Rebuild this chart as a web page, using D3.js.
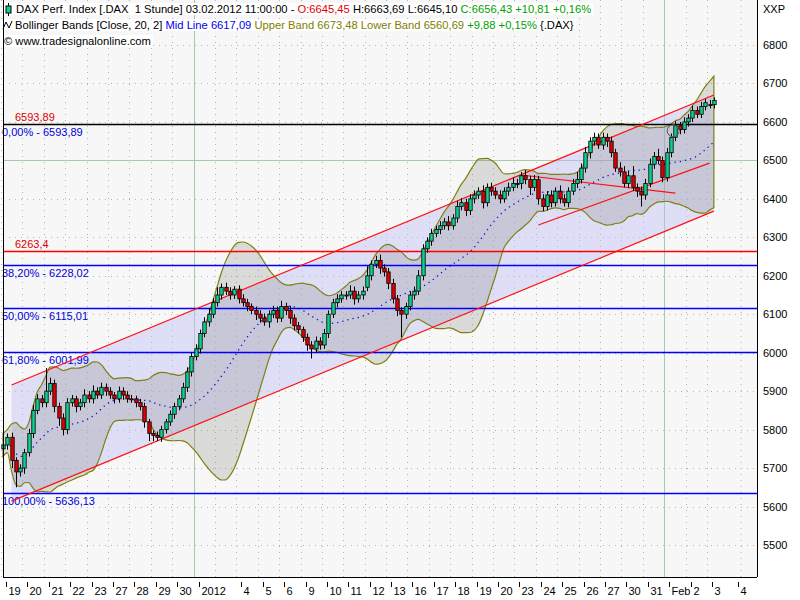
<!DOCTYPE html>
<html><head><meta charset="utf-8">
<script src="https://cdn.jsdelivr.net/npm/d3@7"></script>
<style>body{margin:0;background:#fff}svg{display:block;font-family:"Liberation Sans",Arial,sans-serif}</style>
</head><body><svg id="c" width="800" height="600"></svg>
<script>
// ---- data ----
const dayLabels = ["19","20","21","22","23","27","28","29","30","2012","","4","5","6","9","10","11","12","13","16","17","18","19","20","23","24","25","26","27","30","31","Feb","2","3","4"];
// hourly closes (5 per day), last day partial
const closes = [
 5760,5780,5720,5690,5700, 5740,5790,5850,5880,5870, 5900,5920,5860,5830,5800, 5870,5880,5860,5870,5890,
 5880,5900,5890,5910,5900, 5890,5880,5900,5890,5880, 5880,5870,5860,5820,5790, 5785,5780,5800,5820,5840,
 5860,5880,5910,5950,5990, 6010,6050,6080,6100,6130, 6150,6170,6160,6150,6165, 6140,6130,6120,6110,6100,
 6090,6080,6100,6110,6090, 6120,6110,6090,6070,6060, 6040,6020,6010,6030,6020, 6050,6100,6130,6140,6150,
 6150,6160,6140,6150,6160, 6200,6230,6240,6220,6210, 6180,6140,6110,6100,6120, 6150,6160,6200,6270,6290,
 6310,6320,6330,6340,6330, 6350,6380,6390,6370,6400, 6410,6420,6390,6430,6420, 6410,6400,6420,6430,6440,
 6440,6460,6450,6430,6450, 6400,6380,6410,6390,6420, 6400,6390,6420,6440,6450, 6480,6520,6550,6560,6540,
 6560,6550,6520,6480,6470, 6440,6460,6430,6420,6410, 6440,6490,6510,6500,6455, 6520,6560,6590,6580,6600,
 6610,6630,6620,6640,6650, 6645,6656];
const opens = [
 5750,5760,5780,5720,5690, 5700,5740,5790,5850,5880, 5870,5900,5920,5860,5830, 5800,5870,5880,5860,5870,
 5890,5880,5900,5890,5910, 5900,5890,5880,5900,5890, 5880,5880,5870,5860,5820, 5790,5785,5780,5800,5820,
 5840,5860,5880,5910,5950, 5990,6010,6050,6080,6100, 6130,6150,6170,6160,6150, 6165,6140,6130,6120,6110,
 6100,6090,6080,6100,6110, 6090,6120,6110,6090,6070, 6060,6040,6020,6010,6030, 6020,6050,6100,6130,6140,
 6150,6150,6160,6140,6150, 6170,6200,6230,6240,6220, 6210,6180,6140,6110,6100, 6120,6150,6160,6200,6270,
 6290,6310,6320,6330,6340, 6330,6350,6380,6390,6370, 6400,6410,6420,6390,6430, 6420,6410,6400,6420,6430,
 6440,6440,6460,6450,6430, 6450,6400,6380,6410,6390, 6420,6400,6390,6420,6440, 6450,6480,6520,6550,6560,
 6540,6560,6550,6520,6480, 6470,6440,6460,6430,6420, 6410,6440,6490,6510,6500, 6455,6520,6560,6590,6580,
 6600,6610,6630,6620,6640, 6645,6645];
const wickUp = [
 15,10,12,8,10, 10,12,15,12,10, 60,15,10,10,12, 12,10,8,10,15, 10,15,10,12,10, 10,8,12,10,10, 10,8,10,10,8,
 8,10,10,8,10, 10,10,12,12,10, 12,10,12,15,12, 20,10,12,10,8, 10,12,10,8,10, 10,12,10,12,10, 15,10,12,10,10,
 8,10,10,12,10, 12,10,10,12,10, 10,15,12,10,12, 25,10,12,15,10, 10,12,10,8,10, 10,12,15,12,10, 12,10,12,10,15,
 10,15,12,10,12, 12,10,15,10,12, 10,12,10,12,15, 12,10,15,10,12, 10,12,10,12,10, 15,12,10,12,20, 12,15,10,12,10,
 12,10,12,10,15, 15,12,25,10,12, 12,15,12,20,10, 12,10,12,10,12, 10,12,10,12,10, 12,8];
const wickDn = [
 15,12,20,40,12, 15,10,12,10,12, 12,10,15,20,15, 12,10,15,10,12, 10,12,10,10,12, 10,12,10,12,10, 10,12,10,15,20,
 15,10,12,10,10, 12,10,10,12,12, 10,12,10,12,10, 10,12,10,12,10, 12,10,12,10,15, 12,10,15,10,12, 10,12,15,12,10,
 12,15,25,10,12, 10,12,10,12,10, 12,10,15,10,12, 10,12,10,15,12, 15,12,15,60,12, 10,12,10,12,10, 12,10,12,10,12,
 10,12,10,15,12, 12,10,15,10,12, 10,12,10,12,10, 12,15,12,20,10, 15,12,10,12,10, 12,10,12,10,12, 10,12,15,12,10,
 12,15,12,10,12, 10,12,10,15,30, 12,10,12,10,12, 10,12,10,12,10, 12,10];
const yTicks = [5500,5600,5700,5800,5900,6000,6100,6200,6300,6400,6500,6600,6700,6800];
const fibLevels = [6593.89,6228.02,6115.01,6001.99,5636.13];
const fibLabels = ["0,00% - 6593,89","38,20% - 6228,02","50,00% - 6115,01","61,80% - 6001,99","100,00% - 5636,13"];
const redLevels = [6593.89,6263.4];
const redLabels = ["6593,89","6263,4"];
// trend channel [barIndex, value]
const chanUpper = [[2,5916],[166,6670]];
const chanLower = [[2,5614],[166,6368]];
const smallUp = [[125,6332],[165,6493]];
const smallDn = [[121,6462],[157,6415]];
const marker = [156.5,6577];

// ---- layout ----
const svg = d3.select("#c");
const L=3,R=757,T=0,B=577;
const x = d3.scaleLinear().domain([0,165]).range([3,709.6]); // bar index -> center
const xd = d3.scaleLinear().domain([0,33]).range([1,707]);  // day boundary
const y = d3.scaleLinear().domain([5500,6800]).range([545,45]);

svg.append("rect").attr("x",L).attr("y",T).attr("width",R-L).attr("height",B-T).attr("fill","#f7f7f7");

// grid
const g = svg.append("g");
dayLabels.forEach((d,i)=>{
  const xx = i===34?741:Math.round(xd(i))+0.5;
  if(d==="2012"||d==="Feb") g.append("line").attr("x1",xx).attr("x2",xx).attr("y1",T).attr("y2",B).attr("stroke","#a9c9a9");
  else g.append("line").attr("x1",xx).attr("x2",xx).attr("y1",T).attr("y2",B).attr("stroke","#b4b4b4").attr("stroke-dasharray","1,5");
});
yTicks.forEach(v=>{
  const yy=Math.round(y(v))+0.5;
  if(v===6500) g.append("line").attr("x1",L).attr("x2",R).attr("y1",yy).attr("y2",yy).attr("stroke","#a9c9a9");
  else g.append("line").attr("x1",L).attr("x2",R).attr("y1",yy).attr("y2",yy).attr("stroke","#b4b4b4").attr("stroke-dasharray","1,5");
});

// channel fill
const cx0 = x(chanUpper[0][0]), cx1 = x(chanUpper[1][0]);
svg.append("path").attr("fill","rgba(190,190,245,0.45)")
  .attr("d",`M${cx0},${y(chanUpper[0][1])}L${cx1},${y(chanUpper[1][1])}L${cx1},${y(chanLower[1][1])}L${cx0},${y(chanLower[0][1])}Z`);

// bollinger
const N=closes.length, up=[],lo=[],mid=[];
for(let i=0;i<N;i++){
  const w=closes.slice(Math.max(0,i-19),i+1);
  const m=d3.mean(w), s=Math.max(d3.deviation(w)||0, 15);
  mid.push(m); up.push(m+2*s); lo.push(m-2*s);
}
const idx=d3.range(N);
svg.append("path").attr("fill","rgba(120,120,110,0.22)").attr("stroke","#7f7f10").attr("stroke-width",1.2)
  .attr("d",d3.area().x(i=>x(i)).y0(i=>y(lo[i])).y1(i=>y(up[i])).curve(d3.curveMonotoneX)(idx));
svg.append("path").attr("fill","none").attr("stroke","#1010e0").attr("stroke-width",1.3).attr("stroke-dasharray","1.3,4")
  .attr("d",d3.line().x(i=>x(i)).y(i=>y(mid[i]))(idx));

// horizontal levels
fibLevels.forEach((v,i)=>{
  const yy=Math.round(y(v))+0.5;
  svg.append("line").attr("x1",L).attr("x2",R).attr("y1",yy).attr("y2",yy)
   .attr("stroke",i===0?"#000000":"#0000ff").attr("stroke-width",1.3);
  svg.append("text").attr("x",2).attr("y",y(v)+12).attr("fill","#0000dd").attr("font-size",11).text(fibLabels[i]);
});
redLevels.forEach((v,i)=>{
  const yy=Math.round(y(v))+0.5;
  if(i>0) svg.append("line").attr("x1",L).attr("x2",R).attr("y1",yy).attr("y2",yy).attr("stroke","#ff0000").attr("stroke-width",1.3);
  svg.append("text").attr("x",15).attr("y",y(v)-3).attr("fill","#dd0000").attr("font-size",11).text(redLabels[i]);
});

// channel lines
[chanUpper,chanLower,smallUp,smallDn].forEach(p=>{
  svg.append("line").attr("x1",x(p[0][0])).attr("y1",y(p[0][1])).attr("x2",x(p[1][0])).attr("y2",y(p[1][1])).attr("stroke","#ff1010").attr("stroke-width",1.2);
});

// candles
const cg=svg.append("g");
for(let i=0;i<N;i++){
  const o=opens[i],c=closes[i],h=Math.max(o,c)+(wickUp[i]??10),l=Math.min(o,c)-(wickDn[i]??10);
  const xx=Math.round(x(i))+0.5;
  cg.append("line").attr("x1",xx).attr("x2",xx).attr("y1",y(h)).attr("y2",y(l)).attr("stroke","#000");
  const top=y(Math.max(o,c)), bot=y(Math.min(o,c));
  cg.append("rect").attr("x",xx-1.7).attr("y",top).attr("width",3.4).attr("height",Math.max(1,bot-top))
    .attr("fill",c>=o?"#10d090":"#e00000").attr("stroke","#000").attr("stroke-width",0.8);
}
svg.append("circle").attr("cx",x(marker[0])).attr("cy",y(marker[1])).attr("r",6).attr("fill","none").attr("stroke","#555");

// frame
svg.append("line").attr("x1",L+0.5).attr("x2",L+0.5).attr("y1",T).attr("y2",B).attr("stroke","#000");
svg.append("line").attr("x1",R+0.5).attr("x2",R+0.5).attr("y1",T).attr("y2",B).attr("stroke","#000");
svg.append("line").attr("x1",L).attr("x2",R).attr("y1",B+0.5).attr("y2",B+0.5).attr("stroke","#000");

// y axis labels
yTicks.forEach(v=>{
  svg.append("text").attr("x",763).attr("y",y(v)+4).attr("font-size",11).attr("fill","#000").text(v);
});
svg.append("text").attr("x",763).attr("y",13).attr("font-size",11).text("XXP");
// x axis
dayLabels.forEach((d,i)=>{
  const xx = i===34?738.5:Math.round(xd(i))+5.5;
  if(!d) return;
  svg.append("line").attr("x1",xx).attr("x2",xx).attr("y1",582).attr("y2",587).attr("stroke","#000");
  svg.append("text").attr("x",xx+2).attr("y",595).attr("font-size",11).text(d);
});

// header
const hd=[
 {y:13,parts:[["DAX Perf. Index [.DAX  1 Stunde] 03.02.2012 11:00:00 - ","#000"],["O:6645,45","#e00000"],[" H:6663,69 L:6645,10 ","#000"],["C:6656,43 +10,81 +0,16%","#00a000"]],x:16},
 {y:29,parts:[["Bollinger Bands [Close, 20, 2] ","#000"],["Mid Line 6617,09","#0000ee"],[" Upper Band 6673,48 Lower Band 6560,69","#808000"],[" +9,88 +0,15%","#00a000"],[" {.DAX}","#000"]],x:15},
 {y:45,parts:[["© www.tradesignalonline.com","#000"]],x:4}
];
hd.forEach(h=>{
  const t=svg.append("text").attr("x",h.x).attr("y",h.y).attr("font-size",11.2);
  h.parts.forEach(p=>t.append("tspan").attr("fill",p[1]).attr("xml:space","preserve").text(p[0]));
  const bb=t.node().getBBox();
  svg.insert("rect","text").attr("x",h.x-14).attr("y",bb.y).attr("width",bb.width+16).attr("height",bb.height).attr("fill","#fff");
});
// header icons
svg.append("line").attr("x1",8.5).attr("x2",8.5).attr("y1",3).attr("y2",16).attr("stroke","#000");
svg.append("rect").attr("x",6).attr("y",6).attr("width",5).attr("height",7).attr("fill","#10d090").attr("stroke","#000");
svg.append("path").attr("d","M3,29 L6,22 L9,28 L12,21").attr("fill","none").attr("stroke","#000");
</script></body></html>
